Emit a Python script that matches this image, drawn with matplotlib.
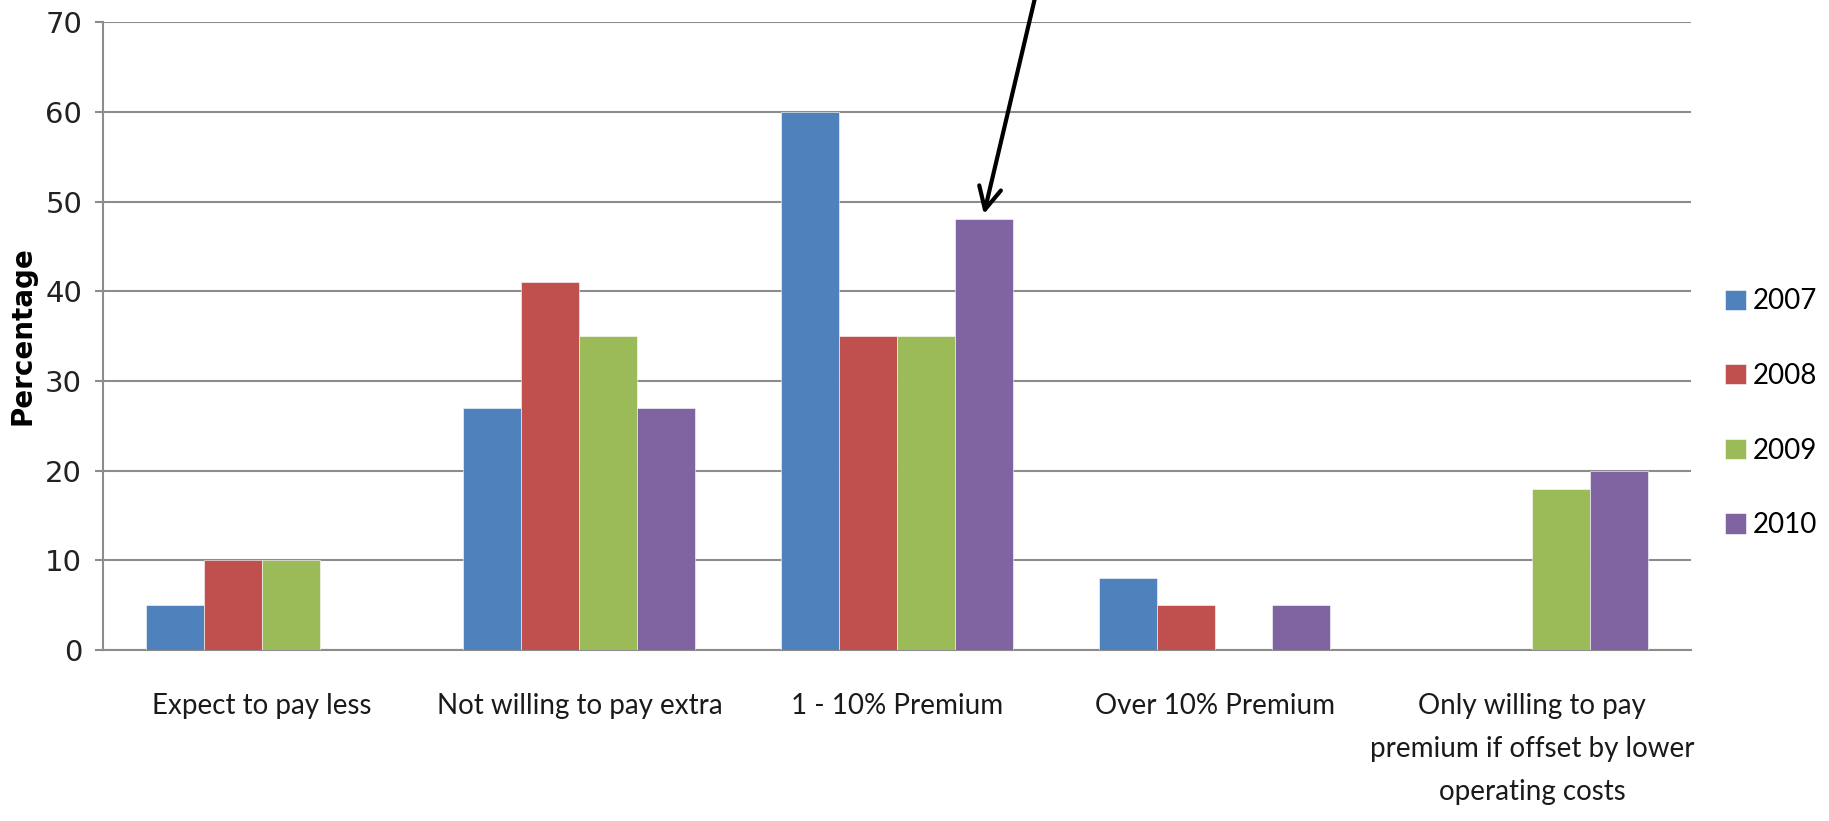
import matplotlib
matplotlib.use("Agg")
import matplotlib.pyplot as plt
import numpy as np
from matplotlib import font_manager

categories = [
    "Expect to pay less",
    "Not willing to pay extra",
    "1 - 10% Premium",
    "Over 10% Premium",
    "Only willing to pay\npremium if offset by lower\noperating costs",
]
years = ["2007", "2008", "2009", "2010"]
v2007 = [5, 27, 60, 8, 0]
v2008 = [10, 41, 35, 5, 0]
v2009 = [10, 35, 35, 0, 18]
v2010 = [0, 27, 48, 5, 20]
series = [v2007, v2008, v2009, v2010]
colors = ["#4F81BD", "#C0504D", "#9BBB59", "#8064A2"]
yticks = [0, 10, 20, 30, 40, 50, 60, 70]

names = {f.name for f in font_manager.fontManager.ttflist}
narrow = "Lato" if "Lato" in names else "DejaVu Sans"

fig = plt.figure(figsize=(18.29, 8.21), dpi=100)
ax = fig.add_axes([0.0563, 0.2083, 0.8682, 0.7647])

x = np.arange(len(categories))
bw = 0.1825
for i, (vals, c, yr) in enumerate(zip(series, colors, years)):
    ax.bar(x + (i - 1.5) * bw, vals, width=bw, color=c, label=yr,
           edgecolor="white", linewidth=0.4, zorder=3)

ax.set_xlim(-0.5, len(categories) - 0.5)
ax.set_ylim(0, 70)
ax.set_yticks(yticks)
ax.set_yticklabels([str(t) for t in yticks], fontsize=21, family="DejaVu Sans", color="#222222")
ax.tick_params(axis="y", length=6, width=1.5, color="#8c8c8c", pad=9)
ax.set_xticks(x)
ax.set_xticklabels(categories, fontsize=20, family=narrow, color="#1a1a1a", linespacing=1.8)
ax.tick_params(axis="x", length=0, pad=31)

ax.grid(axis="y", color="#8c8c8c", linewidth=1.5, zorder=0)
for side in ["top", "right"]:
    ax.spines[side].set_visible(False)
for side in ["left", "bottom"]:
    ax.spines[side].set_color("#8c8c8c")
    ax.spines[side].set_linewidth(1.5)

ax.set_ylabel("Percentage", fontsize=20, fontweight="bold", family="DejaVu Sans")
ax.yaxis.set_label_coords(-0.042, 0.5)

leg = ax.legend(loc="center left", bbox_to_anchor=(1.0056, 0.377), frameon=False,
                prop={"family": narrow, "size": 20}, handlelength=0.75, handleheight=0.75,
                labelspacing=1.75, handletextpad=0.25)

# arrow pointing at the 2010 bar of the 1 - 10% Premium group
ax.annotate("", xy=(2 + 1.5 * bw, 48.6), xytext=(2.44, 73.5),
            arrowprops=dict(arrowstyle="->", color="black", lw=3, mutation_scale=40,
                            shrinkA=0, shrinkB=0),
            annotation_clip=False)

fig.savefig("out.png", dpi=100)
